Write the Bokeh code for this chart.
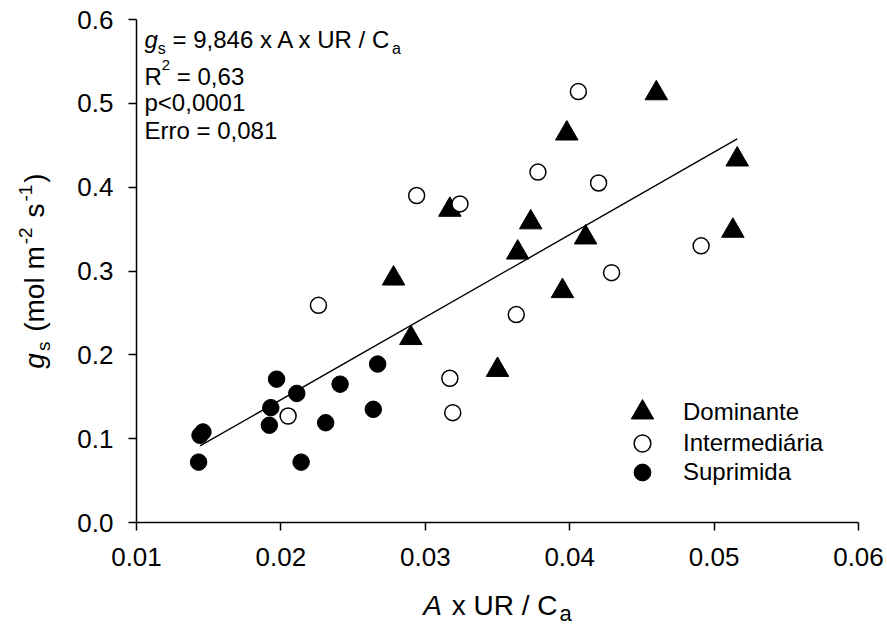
import math
from bokeh.plotting import figure
from bokeh.models import Range1d, Label, Legend, LegendItem, FixedTicker
from bokeh.embed import file_html
from bokeh.resources import INLINE

# ---------------- data ----------------
dom_x = [0.0460, 0.0398, 0.0516, 0.0317, 0.0373, 0.0364, 0.0411, 0.0513, 0.0395, 0.0278, 0.0290, 0.0350]
dom_y = [0.512, 0.464, 0.433, 0.373, 0.358, 0.322, 0.340, 0.348, 0.276, 0.291, 0.220, 0.182]

int_x = [0.0406, 0.0378, 0.0420, 0.0491, 0.0429, 0.0363, 0.0294, 0.0324, 0.0226, 0.0317, 0.0319, 0.0205]
int_y = [0.514, 0.418, 0.405, 0.330, 0.298, 0.248, 0.390, 0.380, 0.259, 0.172, 0.131, 0.127]

sup_x = [0.0267, 0.0197, 0.0241, 0.0211, 0.0193, 0.0264, 0.0192, 0.0231, 0.0146, 0.0144, 0.0143, 0.0214]
sup_y = [0.189, 0.171, 0.165, 0.154, 0.137, 0.135, 0.116, 0.119, 0.108, 0.104, 0.072, 0.072]

fit_x = [0.0144, 0.0516]
fit_slope = 9.846
fit_intercept = -0.0505
fit_y = [fit_slope * v + fit_intercept for v in fit_x]

x_ticks = [0.01, 0.02, 0.03, 0.04, 0.05, 0.06]
x_tick_labels = ["0.01", "0.02", "0.03", "0.04", "0.05", "0.06"]
y_ticks = [0.0, 0.1, 0.2, 0.3, 0.4, 0.5, 0.6]
y_tick_labels = ["0.0", "0.1", "0.2", "0.3", "0.4", "0.5", "0.6"]

series_names = ["Dominante", "Intermediária", "Suprimida"]

FONT = "Liberation Sans"

# ---------------- layout (pixels) ----------------
W, H = 887, 626
AX_L, AX_R, AX_T, AX_B = 136, 858, 19, 522   # where the axes box sits on the canvas
x_lo, x_hi = x_ticks[0], x_ticks[-1]
y_lo, y_hi = y_ticks[0], y_ticks[-1]
kx = (x_hi - x_lo) / (AX_R - AX_L)
ky = (y_hi - y_lo) / (AX_B - AX_T)

p = figure(width=W, height=H,
           x_range=Range1d(x_lo - AX_L * kx, x_hi + (W - AX_R) * kx),
           y_range=Range1d(y_lo - (H - AX_B) * ky, y_hi + AX_T * ky),
           output_backend="svg", toolbar_location=None, min_border=0)
p.grid.visible = False
p.outline_line_color = None
p.background_fill_color = "white"
p.border_fill_color = "white"

p.xaxis.fixed_location = y_lo
p.xaxis.bounds = (x_lo, x_hi)
p.yaxis.fixed_location = x_lo
p.yaxis.bounds = (y_lo, y_hi)

for ax, ticks, labels in ((p.xaxis, x_ticks, x_tick_labels), (p.yaxis, y_ticks, y_tick_labels)):
    ax.ticker = FixedTicker(ticks=ticks)
    ax.major_label_overrides = {t: l for t, l in zip(ticks, labels)}
    ax.major_tick_out = 8
    ax.major_tick_in = 0
    ax.minor_tick_out = 0
    ax.minor_tick_in = 0
    ax.axis_line_width = 1.5
    ax.major_tick_line_width = 1.5
    ax.axis_line_color = "black"
    ax.major_tick_line_color = "black"
    ax.major_label_text_font = FONT
    ax.major_label_text_font_size = "26px"
    ax.major_label_text_color = "black"
p.xaxis.major_label_standoff = 17
p.yaxis.major_label_standoff = 15

# regression line
p.line(fit_x, fit_y, line_color="black", line_width=1.4)

r_dom = p.scatter(dom_x, dom_y, marker="triangle", size=22.5,
                  fill_color="black", line_color="black", line_width=1)
r_int = p.scatter(int_x, int_y, marker="circle", size=16,
                  fill_color="white", line_color="black", line_width=1.5)
r_sup = p.scatter(sup_x, sup_y, marker="circle", size=16.5,
                  fill_color="black", line_color="black", line_width=1)

# ---------------- legends ----------------
def add_legend(name, rend, cx, cy, gsize, text_x):
    # cx, cy: glyph centre on the canvas (cy from top)
    left = cx - gsize // 2
    bottom_up = H - (cy + gsize // 2)
    lg = Legend(items=[LegendItem(label=name, renderers=[rend])],
                location=(int(left), int(bottom_up)),
                glyph_width=int(gsize), glyph_height=int(gsize),
                label_standoff=int(text_x - (left + gsize)),
                padding=0, margin=0, spacing=0,
                border_line_color=None, background_fill_alpha=0,
                label_text_font=FONT, label_text_font_size="24px",
                label_text_color="black")
    p.add_layout(lg)

add_legend(series_names[0], r_dom, 642, 412, 56, 683)
add_legend(series_names[1], r_int, 642, 443, 42, 683)
add_legend(series_names[2], r_sup, 642, 472, 42, 683)

# ---------------- rich text helper ----------------
Wd = {' ': 278, '(': 333, ')': 333, '-': 333, '.': 278, ',': 278, '/': 278,
      '<': 584, '=': 584, 'A': 667, 'C': 722, 'D': 722, 'E': 667, 'R': 722, 'U': 722,
      'a': 556, 'e': 556, 'g': 556, 'i': 222, 'l': 222, 'm': 833, 'n': 556, 'o': 556,
      'p': 556, 'r': 333, 's': 500, 't': 278, 'x': 500}
for d in "0123456789":
    Wd[d] = 556
MID = 0.358   # cap-centre above the baseline, in em


def tw(s, size):
    return sum(Wd.get(c, 556) for c in s) / 1000.0 * size


def rich(parts, x0, base, vertical=False, center=False, gap=0.0):
    """horizontal: x0 = start x (canvas), base = baseline y (canvas, from top).
    vertical: x0 = baseline x (canvas), base = centre/start y (canvas, from top), reads upward."""
    total = sum(tw(t, sz) for t, sz, it, sh in parts) + gap * (len(parts) - 1)
    if vertical:
        start = (H - base) - (total / 2 if center else 0)
    else:
        start = x0 - (total / 2 if center else 0)
    adv = 0.0
    for t, sz, it, sh in parts:
        stripped = t.lstrip(' ')
        lead = tw(t[:len(t) - len(stripped)], sz)
        if vertical:
            x, y, ang = x0 - sh - MID * sz, start + adv + lead, math.pi / 2
        else:
            x, y, ang = start + adv + lead, (H - base) + sh + MID * sz, 0
        p.add_layout(Label(x=x, y=y, x_units="screen", y_units="screen",
                           text=stripped, angle=ang, text_font=FONT,
                           text_font_size=f"{sz}px",
                           text_font_style="italic" if it else "normal",
                           text_align="left", text_baseline="middle",
                           text_color="black"))
        adv += tw(t, sz) + gap

# annotation block
rich([("g", 24, True, 0), ("s", 16, False, -6),
      (" = 9,846 x A x UR / C", 24, False, 0), ("a", 16, False, -6)], 144, 48)
rich([("R", 24, False, 0), ("2", 15, False, 15), (" = 0,63", 24, False, 0)], 144, 85)
rich([("p<0,0001", 24, False, 0)], 144, 111)
rich([("Erro = 0,081", 24, False, 0)], 144, 139)

# x axis title
rich([("A", 28, True, 0), (" x UR / C", 28, False, 0), ("a", 22, False, -6)],
     (AX_L + AX_R) / 2, 615, center=True, gap=2)

# y axis title
rich([("g", 28, True, 0), ("s", 19, False, -6), (" (mol m", 28, False, 0),
      ("-2", 19, False, 12), (" s", 28, False, 0), ("-1", 19, False, 12),
      (")", 28, False, 0)], 44, (AX_T + AX_B) / 2, vertical=True, center=True, gap=2)

open("out.html", "w").write(file_html(p, INLINE))
